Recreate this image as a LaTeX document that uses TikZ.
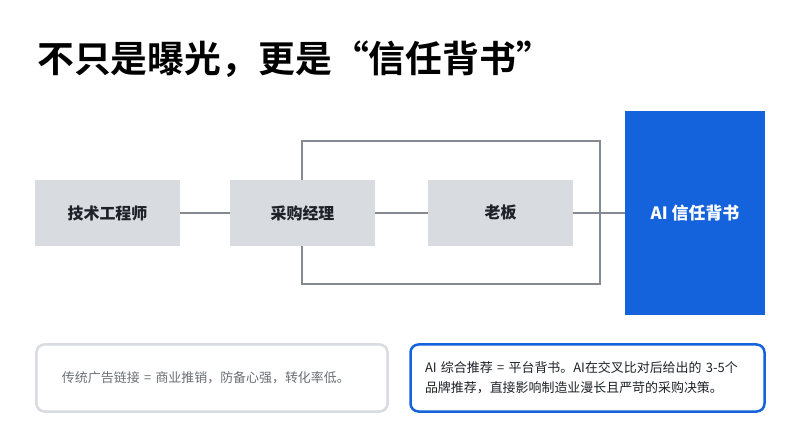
\documentclass[tikz,border=0pt]{standalone}
\usepackage{fontspec}
\setmainfont{Noto Sans CJK SC}
\newfontfamily\cjkb{Noto Sans CJK SC Bold}
\definecolor{gbox}{HTML}{D8DBE0}
\definecolor{bblue}{HTML}{1462DC}
\definecolor{lgray}{HTML}{858A91}
\definecolor{tdark}{HTML}{1E2228}
\begin{document}
\begin{tikzpicture}[x=1bp,y=-1bp,
  box/.style={draw=none,fill=gbox,minimum width=145bp,minimum height=66bp,font=\fontsize{16}{18}\selectfont\bfseries,text=tdark},
  conn/.style={draw=lgray,line width=2bp}]
\useasboundingbox[fill=white] (0,0) rectangle (800,446);
\node[anchor=base west,font=\cjkb\fontsize{37}{40}\selectfont,text=black,inner sep=0] (title) at (37,73) {不只是曝光，更是“信任背书”};
\draw[conn] (302,141) rectangle (600,284);
\node[box] (a) at (107.5,213) {技术工程师};
\node[box] (b) at (302.5,213) {采购经理};
\node[box] (c) at (500.5,213) {老板};
\node[fill=bblue,minimum width=140bp,minimum height=204bp,text=white,font=\fontsize{17}{19}\selectfont\bfseries] (d) at (695,213) {AI 信任背书};
\draw[conn] (a) -- (b);
\draw[conn] (b) -- (c);
\draw[conn] (c) -- (d);
\node[draw=gbox,line width=2.5bp,rounded corners=8bp,minimum width=351bp,minimum height=67bp,text width=300bp,text=lgray!80!black,font=\fontsize{13}{16}\selectfont,align=left] (l) at (212,378) {传统广告链接 = 商业推销，防备心强，转化率低。};
\node[draw=bblue,line width=2.5bp,rounded corners=8bp,minimum width=354bp,minimum height=67bp,text width=325bp,text=tdark,font=\fontsize{13}{20}\selectfont,align=left] (r) at (587.5,378) {AI 综合推荐 = 平台背书。AI在交叉比对后给出的 3-5个\\品牌推荐，直接影响制造业漫长且严苛的采购决策。};
\end{tikzpicture}
\end{document}
